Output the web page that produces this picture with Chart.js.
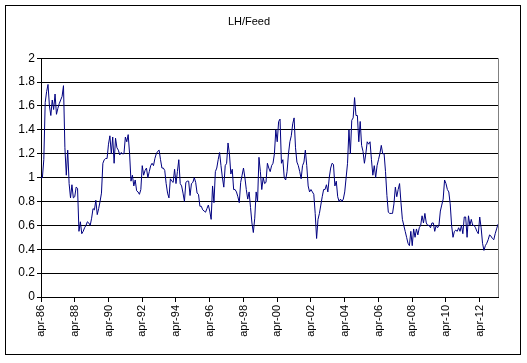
<!DOCTYPE html>
<html>
<head>
<meta charset="utf-8">
<script src="https://cdn.jsdelivr.net/npm/chart.js@4"></script>
<style>
  html, body { margin: 0; padding: 0; background: #fff; }
  #wrap { position: relative; width: 527px; height: 363px; }
</style>
</head>
<body>
<div id="wrap"><canvas id="lhFeedChart" width="527" height="363"></canvas></div>
<script>
// månedsforkortelser og første periode
const monthNames = ['jan', 'feb', 'mar', 'apr', 'maj', 'jun', 'jul', 'aug', 'sep', 'okt', 'nov', 'dec'];
const startYear = 1986;
const startMonth = 3; // april

// LH/Feed, månedlige værdier, 24 mdr. pr. blok
const v1986 = [1.0, 1.0, 1.15, 1.63, 1.72, 1.78, 1.6, 1.52, 1.65, 1.57, 1.7, 1.53,
               1.58, 1.62, 1.65, 1.68, 1.77, 1.25, 1.02, 1.23, 0.95, 0.83, 0.94, 0.83];
const v1988 = [0.84, 0.92, 0.91, 0.55, 0.63, 0.53, 0.55, 0.58, 0.6, 0.63, 0.62, 0.6,
               0.66, 0.74, 0.73, 0.81, 0.69, 0.74, 0.8, 0.87, 1.12, 1.15, 1.16, 1.16];
const v1990 = [1.28, 1.35, 1.2, 1.34, 1.12, 1.33, 1.25, 1.23, 1.19, 1.21, 1.2, 1.2,
               1.34, 1.3, 1.36, 1.2, 0.97, 1.02, 0.93, 0.98, 0.89, 0.88, 0.86, 0.9];
const v1992 = [1.1, 1.02, 1.06, 1.08, 1.0, 1.05, 1.1, 1.12, 1.1, 1.16, 1.2, 1.22,
               1.23, 1.15, 1.08, 1.08, 1.06, 0.95, 0.87, 0.83, 0.99, 0.97, 0.96, 1.07];
const v1994 = [0.95, 1.05, 1.15, 0.95, 0.93, 0.87, 0.8, 0.96, 0.97, 0.97, 0.85, 0.95,
               0.96, 1.0, 0.96, 0.87, 0.86, 0.76, 0.76, 0.73, 0.72, 0.71, 0.74, 0.77];
const v1996 = [0.72, 0.65, 0.93, 0.79, 1.05, 1.08, 1.15, 1.21, 1.1, 1.0, 0.92, 1.1,
               1.12, 1.29, 1.2, 1.03, 1.07, 0.9, 0.9, 0.88, 0.84, 0.79, 0.96, 1.02];
const v1998 = [1.08, 1.0, 0.9, 0.82, 0.88, 0.75, 0.62, 0.54, 0.66, 0.88, 0.8, 1.17,
               1.05, 0.9, 1.0, 0.95, 0.96, 1.12, 1.08, 1.05, 1.1, 1.12, 1.2, 1.4];
const v2000 = [1.3, 1.47, 1.49, 1.12, 1.15, 1.0, 0.98, 1.05, 1.2, 1.3, 1.35, 1.45,
               1.5, 1.25, 1.13, 1.1, 1.05, 0.99, 1.1, 1.13, 1.23, 1.1, 0.93, 0.88];
const v2002 = [0.9, 0.88, 0.86, 0.7, 0.49, 0.65, 0.7, 0.77, 0.84, 0.9, 0.9, 0.94,
               0.88, 1.0, 1.08, 1.12, 1.11, 0.93, 0.97, 0.84, 0.8, 0.82, 0.8, 0.82];
const v2004 = [0.88, 1.0, 1.12, 1.4, 1.2, 1.48, 1.5, 1.67, 1.52, 1.52, 1.3, 1.47,
               1.27, 1.22, 1.12, 1.2, 1.3, 1.28, 1.3, 1.15, 1.02, 1.1, 1.0, 1.1];
const v2006 = [1.15, 1.2, 1.27, 1.2, 1.2, 1.05, 0.85, 0.71, 0.7, 0.7, 0.7, 0.78,
               0.92, 0.84, 0.9, 0.95, 0.79, 0.65, 0.6, 0.55, 0.5, 0.45, 0.43, 0.55];
const v2008 = [0.43, 0.57, 0.5, 0.57, 0.52, 0.58, 0.6, 0.68, 0.62, 0.7, 0.62, 0.6,
               0.6, 0.58, 0.62, 0.62, 0.55, 0.6, 0.58, 0.6, 0.72, 0.77, 0.82, 0.98];
const v2010 = [0.95, 0.9, 0.88, 0.78, 0.6, 0.5, 0.55, 0.56, 0.55, 0.58, 0.55, 0.6,
               0.53, 0.67, 0.67, 0.5, 0.68, 0.6, 0.65, 0.6, 0.6, 0.58, 0.55, 0.53];
const v2012 = [0.67, 0.58, 0.45, 0.39, 0.43, 0.45, 0.48, 0.52, 0.51, 0.49, 0.48, 0.53,
               0.57, 0.61];

const values = [].concat(v1986, v1988, v1990, v1992, v1994, v1996, v1998,
                         v2000, v2002, v2004, v2006, v2008, v2010, v2012);

const labels = values.map((_, i) => {
    const m = (startMonth + i) % 12;
    const y = startYear + Math.floor((startMonth + i) / 12);
    return monthNames[m] + '-' + String(y % 100).padStart(2, '0');
});

const FONT = "'Liberation Sans', Arial, sans-serif";

// ramme om hele diagrammet + grå højre kant på plotområdet
const framePlugin = {
    id: 'frame',
    afterDraw(chart) {
        const c = chart.ctx;
        const a = chart.chartArea;
        c.save();
        c.strokeStyle = '#000';
        c.lineWidth = 1;
        c.strokeRect(5.5, 5.5, 515, 349);
        c.strokeStyle = '#808080';
        c.beginPath();
        c.moveTo(Math.round(a.right) + 0.5, a.top);
        c.lineTo(Math.round(a.right) + 0.5, a.bottom);
        c.stroke();
        c.restore();
    }
};

const ctx = document.getElementById('lhFeedChart').getContext('2d');
new Chart(ctx, {
    type: 'line',
    data: {
        labels: labels,
        datasets: [{
            label: 'LH/Feed',
            data: values,
            borderColor: '#000080',
            borderWidth: 1,
            pointRadius: 0,
            fill: false,
            tension: 0
        }]
    },
    options: {
        responsive: false,
        animation: false,
        devicePixelRatio: 1,
        layout: {
            padding: { left: 0, right: 29, top: 0, bottom: 0 }
        },
        plugins: {
            legend: { display: false },
            tooltip: { enabled: false },
            title: {
                display: true,
                text: 'LH/Feed',
                color: '#000',
                font: { family: FONT, size: 11, weight: 'normal' },
                padding: { top: 15, bottom: 30 }
            }
        },
        scales: {
            x: {
                offset: false,
                grid: {
                    display: true,
                    drawOnChartArea: false,
                    color: '#000',
                    tickLength: 5
                },
                border: { color: '#000', width: 1 },
                ticks: {
                    autoSkip: false,
                    maxRotation: 90,
                    minRotation: 90,
                    padding: 3,
                    color: '#000',
                    font: { family: FONT, size: 11 },
                    callback: function (val, i) {
                        return i % 24 === 0 ? labels[i] : null;
                    }
                },
                afterFit(scale) { scale.height = 66; }
            },
            y: {
                min: 0,
                max: 2,
                grid: {
                    color: '#000',
                    tickLength: 4
                },
                border: { color: '#000', width: 1 },
                ticks: {
                    stepSize: 0.2,
                    padding: 2,
                    color: '#000',
                    font: { family: FONT, size: 12 },
                    callback: v => String(Math.round(v * 10) / 10)
                },
                afterFit(scale) { scale.width = 41; }
            }
        }
    },
    plugins: [framePlugin]
});
</script>
</body>
</html>
